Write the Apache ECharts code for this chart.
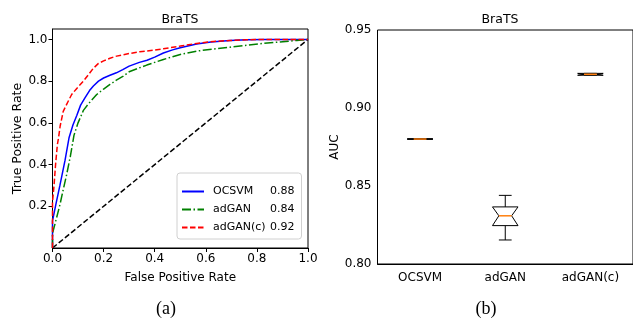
<!DOCTYPE html>
<html>
<head>
<meta charset="utf-8">
<script src="https://cdn.jsdelivr.net/npm/echarts@6/dist/echarts.min.js"></script>
<style>
  html, body { margin: 0; padding: 0; background: #fff; }
  #chart { width: 633px; height: 320px; }
</style>
</head>
<body>
<div id="chart"></div>
<script>
// ROC curves (a)
const ocsvmFpr = [0, 0, 0.015, 0.029, 0.049, 0.065, 0.08, 0.095, 0.11, 0.127, 0.145, 0.16, 0.18, 0.2, 0.225, 0.25, 0.275, 0.3, 0.34, 0.37, 0.4, 0.434, 0.47, 0.5, 0.564, 0.62, 0.695, 0.76, 0.825, 1.0];
const ocsvmTpr = [0, 0.13, 0.22, 0.30, 0.42, 0.53, 0.59, 0.635, 0.685, 0.72, 0.755, 0.777, 0.80, 0.815, 0.828, 0.84, 0.855, 0.872, 0.89, 0.90, 0.915, 0.935, 0.95, 0.96, 0.978, 0.988, 0.995, 0.999, 1.0, 1.0];

const adganFpr = [0, 0, 0.015, 0.029, 0.042, 0.055, 0.07, 0.084, 0.1, 0.121, 0.14, 0.173, 0.2, 0.225, 0.25, 0.277, 0.3, 0.341, 0.369, 0.4, 0.434, 0.47, 0.5, 0.564, 0.63, 0.695, 0.76, 0.825, 0.89, 0.956, 1.0];
const adganTpr = [0, 0.07, 0.14, 0.207, 0.28, 0.35, 0.44, 0.54, 0.60, 0.66, 0.69, 0.736, 0.762, 0.784, 0.805, 0.824, 0.845, 0.864, 0.877, 0.89, 0.904, 0.917, 0.928, 0.944, 0.954, 0.963, 0.972, 0.981, 0.988, 0.995, 1.0];

const adgancFpr = [0, 0, 0.006, 0.012, 0.019, 0.023, 0.03, 0.042, 0.06, 0.075, 0.095, 0.121, 0.14, 0.16, 0.18, 0.2, 0.225, 0.251, 0.303, 0.341, 0.4, 0.434, 0.5, 0.564, 0.63, 0.695, 0.76, 0.825, 1.0];
const adgancTpr = [0, 0.22, 0.30, 0.40, 0.495, 0.523, 0.585, 0.655, 0.70, 0.736, 0.765, 0.80, 0.83, 0.862, 0.885, 0.897, 0.91, 0.92, 0.933, 0.941, 0.949, 0.955, 0.968, 0.981, 0.99, 0.995, 0.998, 1.0, 1.0];

const rocNames = ['OCSVM', 'adGAN', 'adGAN(c)'];
const rocAuc = ['0.88', '0.84', '0.92'];
const chanceFpr = [0, 1];
const chanceTpr = [0, 1];

const rocXTicks = [0, 0.2, 0.4, 0.6, 0.8, 1.0];
const rocYTicks = [0.2, 0.4, 0.6, 0.8, 1.0];

// AUC box plot (b)
const boxNames = ['OCSVM', 'adGAN', 'adGAN(c)'];
const boxLow = [0.8800, 0.8154, 0.9210];
const boxQ1 = [0.8800, 0.8246, 0.9210];
const boxMed = [0.8801, 0.8309, 0.9216];
const boxQ3 = [0.8802, 0.8366, 0.9222];
const boxHigh = [0.8802, 0.8440, 0.9222];
const aucTicks = [0.80, 0.85, 0.90, 0.95];

const font = 'DejaVu Sans';
const zip = (a, b) => a.map((v, i) => [v, b[i]]);

const axisCommon = {
  axisLine: { lineStyle: { color: '#000', width: 1 } },
  axisTick: { length: 4, lineStyle: { color: '#000' } },
  axisLabel: { color: '#000', fontFamily: font, fontSize: 12 },
  splitLine: { show: false },
  nameTextStyle: { color: '#000', fontFamily: font, fontSize: 12 }
};

function rocLine(name, fpr, tpr, color, type) {
  return {
    name: name, type: 'line', xAxisIndex: 0, yAxisIndex: 0,
    data: zip(fpr, tpr), showSymbol: false, symbol: 'none', animation: false,
    lineStyle: { color: color, width: 1.5, type: type },
    itemStyle: { color: color }
  };
}

function renderBox(params, api) {
  const x = api.value(0);
  const low = api.coord([x, api.value(1)])[1];
  const q1 = api.coord([x, api.value(2)])[1];
  const med = api.coord([x, api.value(3)]);
  const q3 = api.coord([x, api.value(4)])[1];
  const high = api.coord([x, api.value(5)])[1];
  const cx = med[0];
  const band = api.size([1, 0])[0];
  const half = band * 0.3 / 2;
  const notch = half / 2;
  const black = { stroke: '#000', lineWidth: 1 };
  return {
    type: 'group',
    children: [
      { type: 'line', shape: { x1: cx, y1: q3, x2: cx, y2: high }, style: black },
      { type: 'line', shape: { x1: cx, y1: q1, x2: cx, y2: low }, style: black },
      { type: 'line', shape: { x1: cx - notch, y1: high, x2: cx + notch, y2: high }, style: black },
      { type: 'line', shape: { x1: cx - notch, y1: low, x2: cx + notch, y2: low }, style: black },
      {
        type: 'polygon',
        shape: { points: [[cx - half, q3], [cx + half, q3], [cx + notch, med[1]], [cx + half, q1], [cx - half, q1], [cx - notch, med[1]]] },
        style: { fill: '#fff', stroke: '#000', lineWidth: 1 }
      },
      { type: 'line', shape: { x1: cx - notch, y1: med[1], x2: cx + notch, y2: med[1] }, style: { stroke: '#ff7f0e', lineWidth: 1.5 } }
    ]
  };
}

const boxData = boxNames.map((n, i) => [i, boxLow[i], boxQ1[i], boxMed[i], boxQ3[i], boxHigh[i]]);

const chart = echarts.init(document.getElementById('chart'), null, { renderer: 'canvas' });
chart.setOption({
  animation: false,
  backgroundColor: '#fff',
  grid: [
    { left: 52.5, top: 29, right: 325, bottom: 72, show: true, borderColor: '#000', borderWidth: 1, backgroundColor: 'transparent' },
    { left: 377.5, top: 30, right: -2, bottom: 56, show: true, borderColor: '#000', borderWidth: 1, backgroundColor: 'transparent' }
  ],
  xAxis: [
    Object.assign({}, axisCommon, {
      type: 'value', gridIndex: 0, min: 0, max: 1, interval: 0.2,
      name: 'False Positive Rate', nameLocation: 'middle', nameGap: 24,
      axisLabel: Object.assign({}, axisCommon.axisLabel, { margin: 5, formatter: v => v.toFixed(1) })
    }),
    Object.assign({}, axisCommon, {
      type: 'category', gridIndex: 1, data: boxNames, boundaryGap: true,
      axisTick: Object.assign({}, axisCommon.axisTick, { alignWithLabel: true }),
      axisLabel: Object.assign({}, axisCommon.axisLabel, { margin: 8 })
    })
  ],
  yAxis: [
    Object.assign({}, axisCommon, {
      type: 'value', gridIndex: 0, min: 0, max: 1.05,
      name: 'True Positive Rate', nameLocation: 'middle', nameGap: 26,
      nameTextStyle: Object.assign({}, axisCommon.nameTextStyle, { fontSize: 12.5 }),
      axisTick: Object.assign({}, axisCommon.axisTick, { customValues: rocYTicks }),
      axisLabel: Object.assign({}, axisCommon.axisLabel, { margin: 5, customValues: rocYTicks, formatter: v => v.toFixed(1) })
    }),
    Object.assign({}, axisCommon, {
      type: 'value', gridIndex: 1, min: 0.8, max: 0.95, interval: 0.05,
      name: 'AUC', nameLocation: 'middle', nameGap: 28,
      axisLabel: Object.assign({}, axisCommon.axisLabel, { margin: 6, formatter: v => v.toFixed(2) })
    })
  ],
  legend: {
    data: rocNames,
    orient: 'vertical', left: 177, top: 173,
    padding: [13, 7, 6, 4], itemGap: 7, itemWidth: 22, itemHeight: 12,
    itemStyle: { opacity: 0 },
    backgroundColor: '#fff', borderColor: '#d0d0d0', borderWidth: 1, borderRadius: 3,
    textStyle: {
      color: '#000', fontFamily: font, fontSize: 11,
      rich: { n: { width: 57, padding: [0, 0, 0, 4], fontFamily: font, fontSize: 11 }, v: { fontFamily: font, fontSize: 11 } }
    },
    formatter: name => '{n|' + name + '}{v|' + rocAuc[rocNames.indexOf(name)] + '}'
  },
  graphic: [
    { type: 'text', x: 180, y: 20, style: { text: 'BraTS', font: '12.5px "DejaVu Sans"', fill: '#000', textAlign: 'center', textVerticalAlign: 'middle' } },
    { type: 'text', x: 500, y: 20, style: { text: 'BraTS', font: '12.5px "DejaVu Sans"', fill: '#000', textAlign: 'center', textVerticalAlign: 'middle' } },
    { type: 'text', x: 166, y: 309, style: { text: '(a)', font: '18px "Liberation Serif"', fill: '#000', textAlign: 'center', textVerticalAlign: 'middle' } },
    { type: 'text', x: 486, y: 309, style: { text: '(b)', font: '18px "Liberation Serif"', fill: '#000', textAlign: 'center', textVerticalAlign: 'middle' } }
  ],
  series: [
    rocLine('chance', chanceFpr, chanceTpr, '#000', [5.5, 2.5]),
    rocLine(rocNames[0], ocsvmFpr, ocsvmTpr, '#0000ff', 'solid'),
    rocLine(rocNames[1], adganFpr, adganTpr, '#008000', [9, 2.5, 1.5, 2.5]),
    rocLine(rocNames[2], adgancFpr, adgancTpr, '#ff0000', [5.5, 2.5]),
    {
      type: 'custom', xAxisIndex: 1, yAxisIndex: 1,
      renderItem: renderBox,
      encode: { x: 0, y: [1, 2, 3, 4, 5] },
      data: boxData
    }
  ]
});
</script>
</body>
</html>
